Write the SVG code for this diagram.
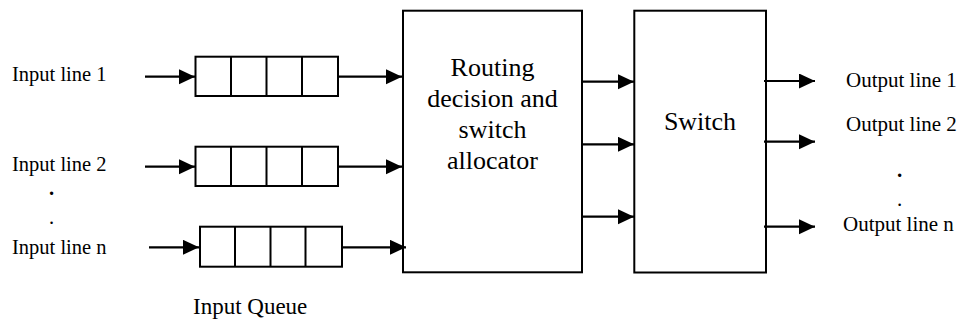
<svg xmlns="http://www.w3.org/2000/svg" width="958" height="320" viewBox="0 0 958 320">
<style>
text{font-family:'Liberation Serif','DejaVu Serif',serif;fill:#000}
.in{font-size:20.5px}
.out{font-size:21px}
.big{font-size:26px}
.box{fill:#fff;stroke:#000;stroke-width:2}
.ln{stroke:#000;stroke-width:2.2;fill:none}
.dv{stroke:#000;stroke-width:2;fill:none}
</style>
<defs>
<marker id="ah" markerUnits="userSpaceOnUse" markerWidth="18" markerHeight="18" refX="16" refY="7.5" orient="auto">
<path d="M0,0 L16,7.5 L0,15 Z" fill="#000"/>
</marker>
</defs>
<rect width="958" height="320" fill="#fff"/>
<g id="labels">
<text class="in" font-family="Liberation Serif, serif" x="12" y="81">Input line 1</text>
<text class="in" font-family="Liberation Serif, serif" x="12" y="171">Input line 2</text>
<text class="in" font-family="Liberation Serif, serif" font-weight="bold" x="49" y="195">.</text>
<text class="in" font-family="Liberation Serif, serif" x="49" y="224">.</text>
<text class="in" font-family="Liberation Serif, serif" x="12" y="254">Input line n</text>
<text font-family="Liberation Serif, serif" x="193" y="314" font-size="23">Input Queue</text>
<text class="out" font-family="Liberation Serif, serif" x="846" y="87">Output line 1</text>
<text class="out" font-family="Liberation Serif, serif" x="846" y="131">Output line 2</text>
<text class="out" font-family="Liberation Serif, serif" font-weight="bold" x="897" y="177">.</text>
<text class="out" font-family="Liberation Serif, serif" x="897" y="206">.</text>
<text class="out" font-family="Liberation Serif, serif" x="843" y="231">Output line n</text>
</g>
<g id="queue1">
<rect class="box" x="195.5" y="56.7" width="142.5" height="39.3"/>
<path class="dv" d="M231,56.7V96M266.5,56.7V96M302,56.7V96"/>
</g>
<g id="queue2">
<rect class="box" x="195.5" y="146.7" width="142.5" height="39.3"/>
<path class="dv" d="M231,146.7V186M266.5,146.7V186M302,146.7V186"/>
</g>
<g id="queuen">
<rect class="box" x="200" y="226.7" width="142" height="40"/>
<path class="dv" d="M235,226.7V266.7M270.5,226.7V266.7M305.5,226.7V266.7"/>
</g>
<g id="router">
<rect class="box" x="403" y="10.7" width="179" height="261.6"/>
<text class="big" font-family="Liberation Serif, serif" text-anchor="middle" x="492.5" y="76">Routing</text>
<text class="big" font-family="Liberation Serif, serif" text-anchor="middle" x="492.5" y="107">decision and</text>
<text class="big" font-family="Liberation Serif, serif" text-anchor="middle" x="492.5" y="138">switch</text>
<text class="big" font-family="Liberation Serif, serif" text-anchor="middle" x="492.5" y="169">allocator</text>
</g>
<g id="switch">
<rect class="box" x="634.3" y="10.7" width="131.7" height="261.8"/>
<text class="big" font-family="Liberation Serif, serif" text-anchor="middle" x="700" y="130">Switch</text>
</g>
<g id="connectors">
<line class="ln" x1="145" y1="76.7" x2="195" y2="76.7" marker-end="url(#ah)"/>
<line class="ln" x1="145" y1="166.7" x2="195" y2="166.7" marker-end="url(#ah)"/>
<line class="ln" x1="149" y1="247.3" x2="199" y2="247.3" marker-end="url(#ah)"/>
<line class="ln" x1="338" y1="76.7" x2="402" y2="76.7" marker-end="url(#ah)"/>
<line class="ln" x1="338" y1="166.7" x2="402" y2="166.7" marker-end="url(#ah)"/>
<line class="ln" x1="342" y1="247.3" x2="406" y2="247.3" marker-end="url(#ah)"/>
<line class="ln" x1="582" y1="81.7" x2="634" y2="81.7" marker-end="url(#ah)"/>
<line class="ln" x1="582" y1="144.3" x2="634" y2="144.3" marker-end="url(#ah)"/>
<line class="ln" x1="582" y1="216.7" x2="634" y2="216.7" marker-end="url(#ah)"/>
<line class="ln" x1="764" y1="81" x2="815" y2="81" marker-end="url(#ah)"/>
<line class="ln" x1="764" y1="141.7" x2="815" y2="141.7" marker-end="url(#ah)"/>
<line class="ln" x1="764" y1="226.7" x2="815" y2="226.7" marker-end="url(#ah)"/>
</g>
</svg>
